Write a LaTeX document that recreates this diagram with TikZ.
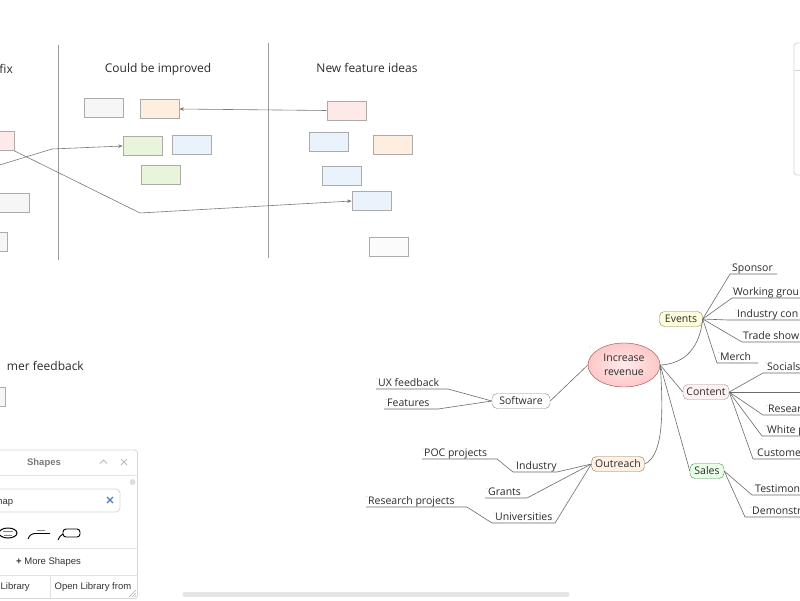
\documentclass[tikz,border=0pt]{standalone}
\usepackage{fontspec}
\setmainfont{Open Sans}
\newfontfamily\uifont{Liberation Sans}
\usetikzlibrary{shapes.geometric,arrows.meta}
\definecolor{stk}{HTML}{ABABAB}
\definecolor{cpink}{HTML}{FDE9E8}
\definecolor{corange}{HTML}{FDEEDF}
\definecolor{cgreen}{HTML}{E9F5DB}
\definecolor{cblue}{HTML}{EAF2FB}
\definecolor{cgray}{HTML}{F6F6F6}
\definecolor{cwhite}{HTML}{FBFBFB}
\definecolor{divc}{HTML}{9B9B9B}
\definecolor{arrc}{HTML}{7A7A7A}
\definecolor{mmc}{HTML}{6B6B6B}
\definecolor{txt}{HTML}{2B2B2B}
\definecolor{uiline}{HTML}{D6D6D6}
\definecolor{uitxt}{HTML}{333333}
\definecolor{uigray}{HTML}{7A7A7A}
\definecolor{uiblue}{HTML}{4A7FC1}
\begin{document}
\begin{tikzpicture}[x=1pt,y=-1pt,
  sticky/.style={draw=stk, line width=0.7pt, minimum width=39pt, minimum height=19pt, inner sep=0pt},
  heading/.style={text=txt, font=\fontsize{12}{14}\selectfont, inner sep=0pt},
  divider/.style={draw=divc, line width=0.9pt},
  arr/.style={draw=arrc, line width=0.6pt, -{Stealth[length=4.5pt,width=3.5pt]}},
  topic/.style={draw=#1, rounded corners=5pt, minimum height=15pt, inner xsep=3pt, inner ysep=0pt, text=txt, font=\fontsize{10.5}{12}\selectfont},
  mm/.style={draw=mmc, line width=0.6pt},
  leaf/.style={inner sep=0pt, text=txt, font=\fontsize{10.5}{12}\selectfont},
  dotmark/.style={fill=gray!45},
  uitext/.style={inner sep=0pt, font=\uifont\fontsize{9.5}{11}\selectfont, text=uitxt}
]
\useasboundingbox (0,0) rectangle (800,600);
\clip (0,0) rectangle (800,600);
\fill[white] (0,0) rectangle (800,600);

% ---------- columns ----------
\draw[divider] (58.5,45) -- (58.5,260);
\draw[divider] (268,43) -- (268,258);
\node[heading, anchor=east] (hfix) at (13,69) {fix};
\node[heading] (himp) at (158,69) {Could be improved};
\node[heading] (hnew) at (367,68) {New feature ideas};
\node[heading, anchor=east] (hcust) at (84,366) {mer feedback};

% ---------- sticky notes ----------
\node[sticky, fill=cpink]   (L1) at (-5.5,141) {};
\node[sticky, fill=cgray]   (L2) at (9.5,203) {};
\node[sticky, fill=cgray]   (L3) at (-12.5,241.5) {};
\node[sticky, fill=cgray]   (L4) at (-14.5,397) {};

\node[sticky, fill=cgray]   (M1) at (103.5,108) {};
\node[sticky, fill=corange] (M2) at (159.5,109) {};
\node[sticky, fill=cgreen]  (M3) at (142.5,146) {};
\node[sticky, fill=cblue]   (M4) at (191.5,144.5) {};
\node[sticky, fill=cgreen]  (M5) at (160.5,174.5) {};

\node[sticky, fill=cpink]   (R1) at (346.5,110.5) {};
\node[sticky, fill=cblue]   (R2) at (328.5,142) {};
\node[sticky, fill=corange] (R3) at (392.5,144.5) {};
\node[sticky, fill=cblue]   (R4) at (342,175.5) {};
\node[sticky, fill=cblue]   (R5) at (371.5,201) {};
\node[sticky, fill=cwhite]  (R6) at (388.5,247) {};

% ---------- arrows ----------
\draw[arr] (R1.west) -- (M2.east);
\coordinate (a2s) at (-30,174);
\coordinate (a2b) at (52,149);
\draw[arr] (a2s) -- (a2b) -- (M3.west);
\coordinate (a3b) at (140,213);
\draw[arr] (L1.south east) -- (a3b) -- (R5.west);

% ---------- mind map ----------
\node[ellipse, draw=black!30!red!40!gray, inner color=red!8, outer color=red!22, minimum width=72pt, minimum height=44pt, inner sep=0pt, align=center, text=txt, font=\fontsize{10.5}{14}\selectfont] (rev) at (624,365) {Increase\\revenue};
\fill[dotmark] (590,347) circle (0.7);

\node[topic=black!25!olive!40!gray, fill=yellow!14, minimum width=43pt] (events) at (681,319) {Events};
\node[topic=black!40, fill=red!5, minimum width=46pt] (content) at (706,392) {Content};
\node[topic=black!35!green!30!gray, fill=green!9, minimum width=34pt] (sales) at (707,471) {Sales};
\node[topic=black!30!orange!35!gray, fill=orange!10, minimum width=53pt] (outreach) at (618,464) {Outreach};
\node[topic=black!45, fill=white, minimum width=58pt] (software) at (521,401) {Software};

\draw[mm] (rev.east) .. controls (686,364) and (700,346) .. (events.east);
\draw[mm] (rev.east) -- (content.west);
\draw[mm] (rev.east) -- (sales.west);
\draw[mm] (rev.east) .. controls (664,420) and (662,456) .. (outreach.east);
\draw[mm] (software.east) -- (rev.west);

% Software leaves
\node[leaf, anchor=base west] (ux) at (378,386) {UX feedback};
\node[leaf, anchor=base west] (feat) at (387,406) {Features};
\draw[mm] (software.west) -- (448,389) -- (376,389);
\draw[mm] (software.west) -- (438,409) -- (384,409);

% Outreach leaves
\node[leaf, anchor=base west] (ind) at (516,469) {Industry};
\node[leaf, anchor=base west] (poc) at (424,456) {POC projects};
\node[leaf, anchor=base west] (gra) at (488,495) {Grants};
\node[leaf, anchor=base west] (uni) at (495,520) {Universities};
\node[leaf, anchor=base west] (res) at (368,504) {Research projects};
\coordinate (indL) at (513,472);
\coordinate (uniL) at (492,523);
\draw[mm] (outreach.west) -- (557,472) -- (indL);
\draw[mm] (indL) -- (497,459) -- (422,459);
\draw[mm] (outreach.west) -- (527,498) -- (485,498);
\draw[mm] (outreach.west) -- (555,523) -- (uniL);
\draw[mm] (uniL) -- (467,507) -- (366,507);

% Events leaves
\node[leaf, anchor=base west] (spo) at (732,271) {Sponsor};
\node[leaf, anchor=base west] (wor) at (733,295) {Working grou};
\node[leaf, anchor=base west] (inc) at (737,317) {Industry con};
\node[leaf, anchor=base west] (tra) at (743,339) {Trade show};
\node[leaf, anchor=base west] (mer) at (720,360) {Merch};
\draw[mm] (events.east) -- (730,274) -- (777,274);
\draw[mm] (events.east) -- (732,298) -- (806,298);
\draw[mm] (events.east) -- (728,320) -- (806,320);
\draw[mm] (events.east) -- (742,342) -- (806,342);
\draw[mm] (events.east) -- (717,363) -- (758,363);

% Content leaves
\node[leaf, anchor=base west] (soc) at (767,370) {Socials};
\node[leaf, anchor=base west] (rsr) at (768,412) {Resear};
\node[leaf, anchor=base west] (whi) at (767,433) {White p};
\node[leaf, anchor=base west] (cus) at (757,456) {Custome};
\draw[mm] (content.east) -- (763,373) -- (806,373);
\draw[mm] (content.east) -- (806,392);
\draw[mm] (content.east) -- (763,415) -- (806,415);
\draw[mm] (content.east) -- (762,436) -- (806,436);
\draw[mm] (content.east) -- (753,459) -- (806,459);

% Sales leaves
\node[leaf, anchor=base west] (tes) at (755,492) {Testimoni};
\node[leaf, anchor=base west] (dem) at (752,514) {Demonstr};
\draw[mm] (sales.east) -- (752,495) -- (806,495);
\draw[mm] (sales.east) -- (745,517) -- (806,517);

% small marks at leaf corners
\foreach \n in {ux,feat,ind,poc,gra,uni,res,spo,wor,inc,tra,mer,soc,rsr,whi,cus,tes,dem}
  \fill[dotmark] ([xshift=-1pt,yshift=-1pt]\n.north west) circle (0.6);

% ---------- right side panel ----------
\draw[uiline, fill=white, rounded corners=3pt, line width=0.8pt] (794,43) rectangle (812,175);
\draw[uiline, line width=0.8pt] (794,70) -- (812,70);

% ---------- shapes panel ----------
\draw[uiline, fill=white, rounded corners=3pt, line width=0.8pt] (-6,450) rectangle (137.5,598.5);
\node[uitext, text=uigray, font=\uifont\bfseries\fontsize{9.5}{11}\selectfont] (ptitle) at (44,463) {Shapes};
\draw[uigray!50, line width=0.8pt] (100,463.5) -- (103.5,460) -- (107,463.5);
\draw[uigray!50, line width=0.8pt] (121,459) -- (127,465) (121,465) -- (127,459);
\draw[uiline!70, line width=0.8pt] (-6,475) -- (137.5,475);
\fill[uiline!80] (132.5,482) circle (3);
\draw[uiline, rounded corners=4pt, line width=0.8pt] (-6,489) rectangle (120,512);
\node[uitext, anchor=base west] (psearch) at (-5.5,504) {map};
\draw[uiblue, line width=1.2pt] (107,497) -- (113,503) (107,503) -- (113,497);
% search results icons
\draw[black, line width=1pt] (8,533) ellipse (9 and 5);
\draw[gray, line width=0.3pt] (3,531) -- (13,531) (4,535) -- (12,535);
\draw[black, line width=0.9pt] (28,539) .. controls (30,535) .. (34,533.5) -- (50,533.5);
\draw[gray, line width=0.3pt] (37,530) -- (45,530);
\draw[black, line width=0.9pt] (58,540) .. controls (60,536) .. (63,534);
\draw[black, line width=0.9pt, rounded corners=3pt] (63,529) rectangle (80,537);
\draw[uiline!70, line width=0.8pt] (-6,548) -- (137.5,548);
\node[uitext] (pmore) at (48.5,562) {\textbf{+}\ More Shapes};
\draw[uiline!70, line width=0.8pt] (-6,575) -- (137.5,575);
\draw[uiline!70, line width=0.8pt] (50,575) -- (50,598.5);
\node[uitext, anchor=base west] (plib) at (0.5,589.5) {Library};
\node[uitext, anchor=base west] (popen) at (54.5,589.5) {Open Library from};
\draw[uigray!60, line width=0.5pt] (129,597) -- (136,590) (132,597) -- (136,593) (134.5,597) -- (136,595.5);

% ---------- scrollbar ----------
\draw[black!10, line width=5pt, line cap=round] (185,594) -- (567,594);
\end{tikzpicture}
\end{document}
